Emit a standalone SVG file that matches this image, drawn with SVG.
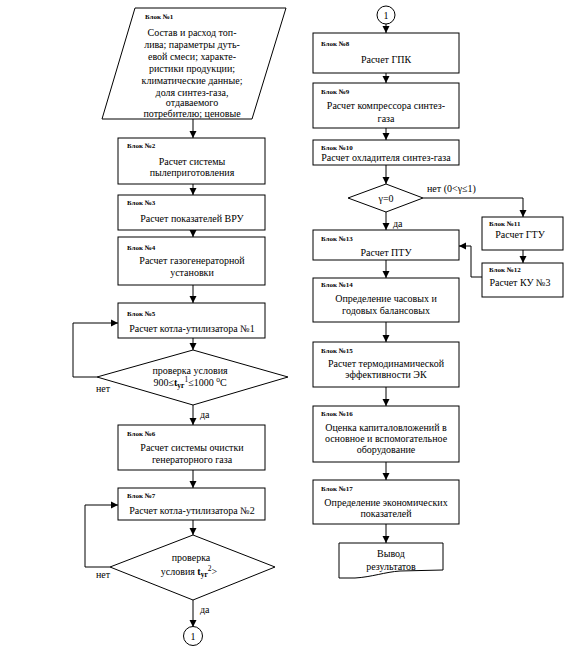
<svg xmlns="http://www.w3.org/2000/svg" width="567" height="649" viewBox="0 0 567 649">
<defs>
<marker id="ah" markerWidth="8" markerHeight="8" viewBox="0 0 8 8" refX="7" refY="4" orient="auto" markerUnits="userSpaceOnUse">
<path d="M0,0.5 L7,4 L0,7.5 Z" fill="#000"/>
</marker>
<style>
.s{fill:#fff;stroke:#000;stroke-width:1}
.c{fill:none;stroke:#000;stroke-width:1;marker-end:url(#ah)}
text{font-size:10px;fill:#000}
.m{text-anchor:middle}
.b{font-size:7px;font-weight:bold}
.sm{font-size:7.5px}
</style>
</defs>
<rect width="567" height="649" fill="#fff"/>
<g font-family="'Liberation Serif', 'Times New Roman', 'DejaVu Serif', serif">

<g id="connectors">
<path class="c" d="M193,119 V138"/>
<path class="c" d="M193,184 V195"/>
<path class="c" d="M193,230 V237"/>
<path class="c" d="M193,285 V303"/>
<path class="c" d="M193,338 V350"/>
<path class="c" d="M193,405 V425"/>
<path class="c" d="M193,470 V488"/>
<path class="c" d="M193,520 V535"/>
<path class="c" d="M193,600 V627"/>
<path class="c" d="M97,377 H73 V323 H118"/>
<path class="c" d="M110,567 H85 V505 H118"/>
<path class="c" d="M386,24 V33"/>
<path class="c" d="M386,73 V83"/>
<path class="c" d="M386,128 V140"/>
<path class="c" d="M386,165 V184"/>
<path class="c" d="M386,212 V230"/>
<path class="c" d="M423,198 H523 V217"/>
<path class="c" d="M523,250 V263"/>
<path class="c" d="M482,277 H471 V246 H459"/>
<path class="c" d="M386,260 V278"/>
<path class="c" d="M386,322 V342"/>
<path class="c" d="M386,387 V406"/>
<path class="c" d="M386,462 V480"/>
<path class="c" d="M386,524 V543"/>
<text x="96" y="392">нет</text>
<text x="200" y="418">да</text>
<text x="96" y="578">нет</text>
<text x="200" y="613">да</text>
<text x="393" y="227">да</text>
<text x="427" y="192">нет (0&lt;γ≤1)</text>
</g>

<g id="n1">
<path class="s" d="M135,8 H286 L252,119 H102 Z"/>
<text class="b" x="145" y="19">Блок №1</text>
<text class="m" x="192" y="36">Состав и расход топ-</text>
<text class="m" x="192" y="48">лива; параметры дуть-</text>
<text class="m" x="192" y="60">евой смеси; характе-</text>
<text class="m" x="192" y="72">ристики продукции;</text>
<text class="m" x="192" y="84">климатические данные;</text>
<text class="m" x="192" y="96">доля синтез-газа,</text>
<text class="m" x="192" y="106">отдаваемого</text>
<text class="m" x="192" y="117">потребителю; ценовые</text>
</g>

<g id="n2">
<rect class="s" x="118" y="138" width="147" height="46"/>
<text class="b" x="127" y="148">Блок №2</text>
<text class="m" x="192" y="165">Расчет системы</text>
<text class="m" x="192" y="176">пылеприготовления</text>
</g>

<g id="n3">
<rect class="s" x="118" y="195" width="147" height="35"/>
<text class="b" x="127" y="205">Блок №3</text>
<text class="m" x="192" y="222">Расчет показателей ВРУ</text>
</g>

<g id="n4">
<rect class="s" x="118" y="237" width="147" height="48"/>
<text class="b" x="127" y="250">Блок №4</text>
<text class="m" x="192" y="264">Расчет газогенераторной</text>
<text class="m" x="192" y="276">установки</text>
</g>

<g id="n5">
<rect class="s" x="118" y="303" width="147" height="35"/>
<text class="b" x="127" y="316">Блок №5</text>
<text class="m" x="192" y="332">Расчет котла-утилизатора №1</text>
</g>

<g id="d1">
<path class="s" d="M193,350 L288,377 L193,405 L97,377 Z"/>
<text class="m" x="190" y="374">проверка условия</text>
<text class="m" x="190" y="386">900≤<tspan font-weight="bold">t</tspan><tspan class="sm" font-weight="bold" dy="2">уг</tspan><tspan class="sm" dy="-6">1</tspan><tspan dy="4">≤1000 </tspan><tspan class="sm" dy="-4">o</tspan><tspan dy="4">C</tspan></text>
</g>

<g id="n6">
<rect class="s" x="118" y="425" width="147" height="45"/>
<text class="b" x="127" y="436">Блок №6</text>
<text class="m" x="192" y="451">Расчет системы очистки</text>
<text class="m" x="192" y="463">генераторного газа</text>
</g>

<g id="n7">
<rect class="s" x="118" y="488" width="147" height="32"/>
<text class="b" x="127" y="498">Блок №7</text>
<text class="m" x="192" y="514">Расчет котла-утилизатора №2</text>
</g>

<g id="d2">
<path class="s" d="M193,535 L275,567 L193,600 L110,567 Z"/>
<text class="m" x="191" y="561">проверка</text>
<text class="m" x="189" y="575">условия <tspan font-weight="bold">t</tspan><tspan class="sm" font-weight="bold" dy="2">уг</tspan><tspan class="sm" dy="-6">2</tspan><tspan dy="4">&gt;</tspan></text>
</g>

<g id="c1">
<circle class="s" cx="193" cy="636" r="9.5"/>
<text class="m" x="193" y="640">1</text>
</g>

<g id="c2">
<circle class="s" cx="386" cy="15" r="9"/>
<text class="m" x="386" y="19">1</text>
</g>

<g id="n8">
<rect class="s" x="313" y="33" width="146" height="40"/>
<text class="b" x="321" y="46">Блок №8</text>
<text class="m" x="386" y="63">Расчет ГПК</text>
</g>

<g id="n9">
<rect class="s" x="313" y="83" width="146" height="45"/>
<text class="b" x="321" y="94">Блок №9</text>
<text class="m" x="386" y="109">Расчет компрессора синтез-</text>
<text class="m" x="386" y="122">газа</text>
</g>

<g id="n10">
<rect class="s" x="313" y="140" width="146" height="25"/>
<text class="b" x="321" y="150">Блок №10</text>
<text class="m" x="386" y="161">Расчет охладителя синтез-газа</text>
</g>

<g id="dg">
<path class="s" d="M386,184 L423,198 L386,212 L348,198 Z"/>
<text class="m" x="386" y="202">γ=0</text>
</g>

<g id="n11">
<rect class="s" x="482" y="217" width="81" height="33"/>
<text class="b" x="489" y="226">Блок №11</text>
<text class="m" x="520" y="238">Расчет ГТУ</text>
</g>

<g id="n12">
<rect class="s" x="482" y="263" width="81" height="34"/>
<text class="b" x="489" y="272">Блок №12</text>
<text class="m" x="520" y="286">Расчет КУ №3</text>
</g>

<g id="n13">
<rect class="s" x="313" y="230" width="146" height="30"/>
<text class="b" x="321" y="241">Блок №13</text>
<text class="m" x="386" y="256">Расчет ПТУ</text>
</g>

<g id="n14">
<rect class="s" x="313" y="278" width="146" height="44"/>
<text class="b" x="321" y="287">Блок №14</text>
<text class="m" x="386" y="302">Определение часовых и</text>
<text class="m" x="386" y="314">годовых балансовых</text>
</g>

<g id="n15">
<rect class="s" x="313" y="342" width="146" height="45"/>
<text class="b" x="321" y="353">Блок №15</text>
<text class="m" x="386" y="367">Расчет термодинамической</text>
<text class="m" x="386" y="378">эффективности ЭК</text>
</g>

<g id="n16">
<rect class="s" x="313" y="406" width="146" height="56"/>
<text class="b" x="321" y="416">Блок №16</text>
<text class="m" x="386" y="431">Оценка капиталовложений в</text>
<text class="m" x="386" y="442">основное и вспомогательное</text>
<text class="m" x="386" y="453">оборудование</text>
</g>

<g id="n17">
<rect class="s" x="313" y="480" width="146" height="44"/>
<text class="b" x="321" y="491">Блок №17</text>
<text class="m" x="386" y="506">Определение экономических</text>
<text class="m" x="386" y="517">показателей</text>
</g>

<g id="out">
<path class="s" d="M339,543 H443 V570 L400,571 C385,572 372,577 355,578 H339 Z"/>
<text class="m" x="391" y="557">Вывод</text>
<text class="m" x="391" y="570">результатов</text>
</g>
</g>
</svg>
